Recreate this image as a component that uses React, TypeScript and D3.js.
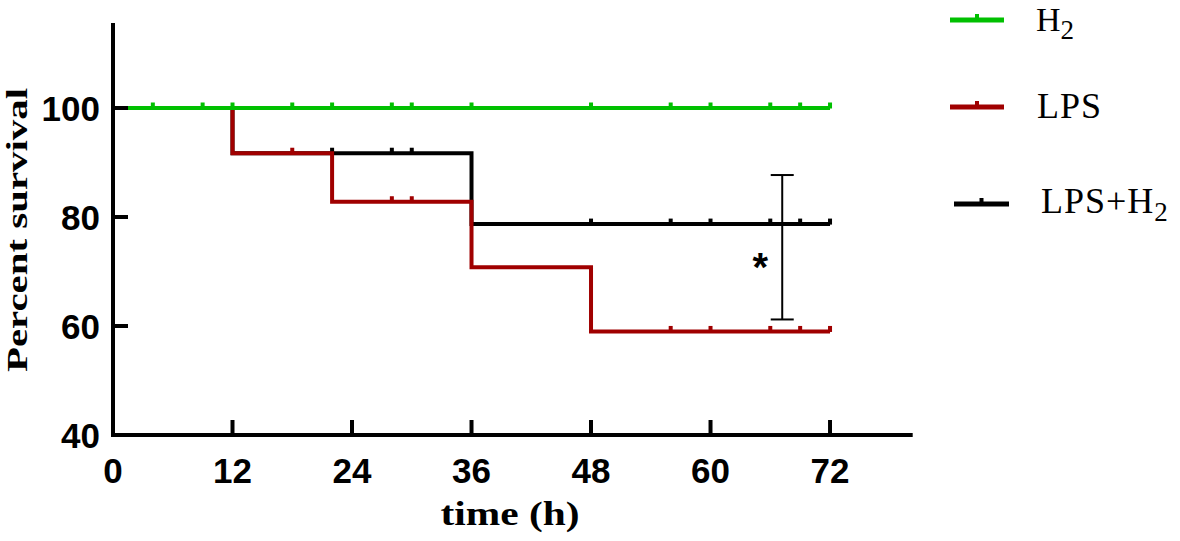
import React from "react";
import * as d3 from "d3";

// ---------- data ----------
const xTicks = [0, 12, 24, 36, 48, 60, 72];
const yTicks = [40, 60, 80, 100];

const seriesNames = ["H2", "LPS", "LPS+H2"];
const seriesColors = ["#00c000", "#a00000", "#000000"];

const timesH2 = [0, 72];
const survH2 = [100, 100];
const censorH2 = [4, 9, 12, 18, 22, 28, 30, 36, 48, 56, 60, 66, 69, 72];

const timesLPS = [0, 12, 22, 36, 48, 72];
const survLPS = [100, 91.7, 82.8, 70.8, 59.0, 59.0];
const censorLPS = [18, 28, 30, 56, 60, 66, 69, 72];

const timesLPSH2 = [0, 12, 36, 72];
const survLPSH2 = [100, 91.7, 78.7, 78.7];
const censorLPSH2 = [22, 28, 30, 48, 56, 60, 66, 69, 72];

// significance bracket
const sigX = [67.2];
const sigRange = [61.2, 87.7];
const sigLabel = ["*"];
const sigLabelPos = [65.0, 72.3];

// ---------- helpers ----------
const x = d3.scaleLinear().domain([0, 80]).range([113, 909.7]);
const y = d3.scaleLinear().domain([40, 100]).range([435, 108]);
const yTopValue = 115.6;

function stepValue(times: number[], surv: number[], t: number) {
  let v = surv[0];
  for (let i = 0; i < times.length; i++) if (times[i] <= t) v = surv[i];
  return v;
}

const lineGen = d3
  .line<[number, number]>()
  .x((d) => x(d[0]))
  .y((d) => y(d[1]))
  .curve(d3.curveStepAfter);

const series = [
  { times: timesLPSH2, surv: survLPSH2, censor: censorLPSH2, color: seriesColors[2] },
  { times: timesLPS, surv: survLPS, censor: censorLPS, color: seriesColors[1] },
  { times: timesH2, surv: survH2, censor: censorH2, color: seriesColors[0] },
];

const SANS = "'Liberation Sans', Arial, sans-serif";
const SERIF = "'Liberation Serif', 'Times New Roman', serif";

export default function App() {
  const axisW = 4;
  const x0 = x(0);
  const y0 = y(40);
  const legendY = [20, 107, 204];
  const legendX = [[950, 1004], [950, 1004], [954, 1009]];
  const legendTextX = [1036, 1037, 1041];
  const legendBase = [31, 118, 213];
  const legendSize = [34, 36, 36];

  return (
    <svg
      width={1180}
      height={541}
      style={{ position: "absolute", left: 0, top: 0, background: "#fff" }}
    >
      {/* curves */}
      {series.map((s, i) => {
        const pts: [number, number][] = s.times.map((t, j) => [t, s.surv[j]]);
        return (
          <g key={i}>
            <path
              d={lineGen(pts) || ""}
              fill="none"
              stroke={s.color}
              strokeWidth={4}
              strokeLinejoin="miter"
            />
            {s.censor.map((t, k) => (
              <rect
                key={k}
                x={x(t) - 2}
                y={y(stepValue(s.times, s.surv, t)) - 5.5}
                width={4}
                height={6}
                fill={s.color}
              />
            ))}
          </g>
        );
      })}

      {/* axes */}
      <line x1={x0} x2={x0} y1={y(yTopValue)} y2={y0 + 2} stroke="#000" strokeWidth={axisW} />
      <line x1={x0 - 2} x2={x(80) + 3} y1={y0} y2={y0} stroke="#000" strokeWidth={axisW} />
      {yTicks.map((v) => (
        <g key={v}>
          {v !== 40 && (
            <line x1={x0} x2={x0 + 15} y1={y(v)} y2={y(v)} stroke="#000" strokeWidth={axisW} />
          )}
          <text
            x={100}
            y={y(v) + 12.5}
            textAnchor="end"
            fontFamily={SANS}
            fontWeight="bold"
            fontSize={35}
          >
            {v}
          </text>
        </g>
      ))}
      {xTicks.map((v) => (
        <g key={v}>
          {v !== 0 && (
            <line x1={x(v)} x2={x(v)} y1={y0} y2={y0 - 15} stroke="#000" strokeWidth={axisW} />
          )}
          <text
            x={x(v)}
            y={483}
            textAnchor="middle"
            fontFamily={SANS}
            fontWeight="bold"
            fontSize={35}
          >
            {v}
          </text>
        </g>
      ))}

      {/* axis titles */}
      <text
        x={510}
        y={525}
        textAnchor="middle"
        fontFamily={SERIF}
        fontWeight="bold"
        fontSize={33}
        textLength={139}
        lengthAdjust="spacingAndGlyphs"
      >
        time (h)
      </text>
      <text
        transform="translate(27,230) rotate(-90)"
        textAnchor="middle"
        fontFamily={SERIF}
        fontWeight="bold"
        fontSize={29}
        textLength={284}
        lengthAdjust="spacingAndGlyphs"
      >
        Percent survival
      </text>

      {/* significance bracket */}
      <g stroke="#000" strokeWidth={2}>
        <line x1={x(sigX[0])} x2={x(sigX[0])} y1={y(sigRange[1])} y2={y(sigRange[0])} />
        <line x1={x(sigX[0]) - 11.5} x2={x(sigX[0]) + 11.5} y1={y(sigRange[1])} y2={y(sigRange[1])} />
        <line x1={x(sigX[0]) - 11.5} x2={x(sigX[0]) + 11.5} y1={y(sigRange[0])} y2={y(sigRange[0])} />
      </g>
      <text
        x={x(sigLabelPos[0])}
        y={y(sigLabelPos[1]) + 22}
        textAnchor="middle"
        fontFamily={SANS}
        fontWeight="bold"
        fontSize={40}
      >
        {sigLabel[0]}
      </text>

      {/* legend */}
      {seriesNames.map((name, i) => {
        const [lx1, lx2] = legendX[i];
        const cx = (lx1 + lx2) / 2;
        const hasSub = name.endsWith("2");
        const main = hasSub ? name.slice(0, -1) : name;
        return (
          <g key={name}>
            <line x1={lx1} x2={lx2} y1={legendY[i]} y2={legendY[i]} stroke={seriesColors[i]} strokeWidth={5} />
            <rect x={cx - 2} y={legendY[i] - 6} width={4} height={5} fill={seriesColors[i]} />
            <text
              x={legendTextX[i]}
              y={legendBase[i]}
              fontFamily={SERIF}
              fontSize={legendSize[i]}
              letterSpacing={i === 0 ? 0 : 1}
            >
              {main}
              {hasSub && (
                <tspan fontSize={27} dy={8} letterSpacing={0}>
                  2
                </tspan>
              )}
            </text>
          </g>
        );
      })}
    </svg>
  );
}
